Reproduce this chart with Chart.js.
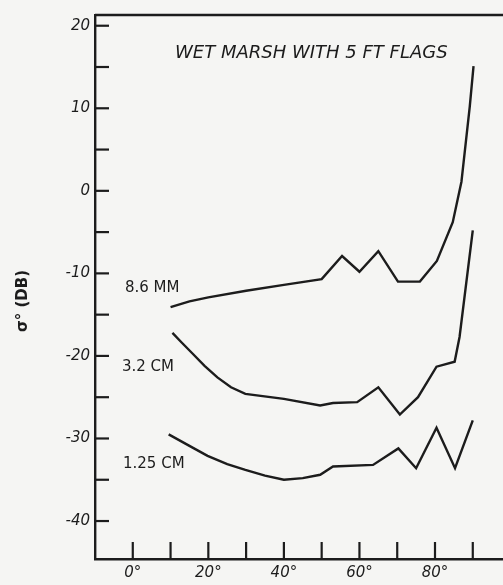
<!DOCTYPE html>
<html>
<head>
<meta charset="utf-8">
<script src="https://cdn.jsdelivr.net/npm/chart.js@4/dist/chart.umd.min.js"></script>
<style>
  html, body { margin: 0; padding: 0; background: #f5f5f3; }
  #wrap { width: 503px; height: 585px; }
</style>
</head>
<body>
<div id="wrap"><canvas id="myChart"></canvas></div>
<script>
// values (angle in degrees, sigma in dB)
var angles86 = [10, 15, 20, 30, 40, 50, 55.4, 60, 65, 70.2, 76, 80.5, 84.7, 87, 89.2, 90.2];
var db86 = [-14.1, -13.4, -12.9, -12.1, -11.4, -10.7, -7.9, -9.8, -7.3, -11, -11, -8.5, -3.8, 1.1, 10.2, 15.1];

var angles32 = [10.5, 13, 16, 19, 22.4, 26, 29.8, 40, 49.6, 53, 59.4, 65, 70.7, 75.5, 80.4, 85.2, 86.5, 90];
var db32 = [-17.2, -18.4, -19.8, -21.2, -22.6, -23.8, -24.6, -25.2, -26, -25.7, -25.6, -23.8, -27.1, -25, -21.3, -20.7, -17.7, -4.8];

var angles125 = [9.5, 15, 19.8, 25, 29.8, 35, 40, 45, 49.6, 53, 63.6, 70.3, 75, 80.4, 85.3, 90];
var db125 = [-29.5, -30.9, -32.1, -33.1, -33.8, -34.5, -35, -34.8, -34.4, -33.4, -33.2, -31.2, -33.6, -28.7, -33.6, -27.8];

var xTicks = [0, 10, 20, 30, 40, 50, 60, 70, 80, 90];
var xLabels = { 0: "0°", 20: "20°", 40: "40°", 60: "60°", 80: "80°" };
var yTicks = [-40, -35, -30, -25, -20, -15, -10, -5, 0, 5, 10, 15, 20];
var yLabels = { "-40": "-40", "-30": "-30", "-20": "-20", "-10": "-10", "0": "0", "10": "10", "20": "20" };

var title = "WET MARSH WITH 5 FT FLAGS";
var seriesNames = ["8.6 MM", "3.2 CM", "1.25 CM"];

function toPoints(xs, ys) {
  var pts = [];
  for (var i = 0; i < xs.length; i++) {
    pts.push({ x: xs[i], y: ys[i] });
  }
  return pts;
}

var ink = "#1c1c1c";
var font = "'DejaVu Sans', sans-serif";

var paperPlugin = {
  id: "paper",
  beforeDraw: function (chart) {
    var ctx = chart.ctx;
    ctx.save();
    ctx.fillStyle = "#f5f5f3";
    ctx.fillRect(0, 0, chart.width, chart.height);
    ctx.restore();
  },
  afterDraw: function (chart) {
    var ctx = chart.ctx;
    var xs = chart.scales.x;
    var ys = chart.scales.y;
    var area = chart.chartArea;
    ctx.save();
    ctx.strokeStyle = ink;
    ctx.lineWidth = 2.4;
    // top frame line
    ctx.beginPath();
    ctx.moveTo(area.left, area.top);
    ctx.lineTo(area.right, area.top);
    ctx.stroke();
    // inward ticks
    ctx.lineWidth = 2.2;
    for (var i = 0; i < yTicks.length; i++) {
      var py = ys.getPixelForValue(yTicks[i]);
      ctx.beginPath();
      ctx.moveTo(area.left, py);
      ctx.lineTo(area.left + 14, py);
      ctx.stroke();
    }
    for (var j = 0; j < xTicks.length; j++) {
      var px = xs.getPixelForValue(xTicks[j]);
      ctx.beginPath();
      ctx.moveTo(px, area.bottom);
      ctx.lineTo(px, area.bottom - 17);
      ctx.stroke();
    }
    // texts
    ctx.fillStyle = ink;
    ctx.textBaseline = "middle";
    ctx.textAlign = "left";
    ctx.font = "italic 18px " + font;
    ctx.fillText(title, 175, 53);
    ctx.font = "15px " + font;
    ctx.fillText(seriesNames[0], 125, 288);
    ctx.fillText(seriesNames[1], 122, 367);
    ctx.fillText(seriesNames[2], 123, 464);
    // y axis title
    ctx.save();
    ctx.translate(23, 301);
    ctx.rotate(-Math.PI / 2);
    ctx.textAlign = "center";
    ctx.font = "bold 15px " + font;
    ctx.fillText("σ° (DB)", 0, 0);
    ctx.restore();
    ctx.restore();
  },
};

function makeSet(label, xs, ys) {
  return {
    label: label,
    data: toPoints(xs, ys),
    borderColor: ink,
    borderWidth: 2.4,
    pointRadius: 0,
    tension: 0,
    fill: false,
  };
}

var config = {
  type: "line",
  data: {
    datasets: [
      makeSet(seriesNames[0], angles86, db86),
      makeSet(seriesNames[1], angles32, db32),
      makeSet(seriesNames[2], angles125, db125),
    ],
  },
  options: {
    responsive: true,
    maintainAspectRatio: false,
    animation: false,
    layout: { padding: { top: 15, right: 0, left: 0, bottom: 0 } },
    plugins: { legend: { display: false }, tooltip: { enabled: false } },
    scales: {
      x: {
        type: "linear",
        min: -10,
        max: 98,
        afterFit: function (s) { s.height = 26; },
        afterBuildTicks: function (s) {
          s.ticks = xTicks.map(function (v) { return { value: v }; });
        },
        grid: { display: false, drawTicks: false },
        border: { display: true, color: ink, width: 2.4 },
        ticks: {
          padding: 5,
          color: ink,
          font: { family: font, size: 15, style: "italic" },
          maxRotation: 0,
          autoSkip: false,
          callback: function (v) { return xLabels[v] || ""; },
        },
      },
      y: {
        min: -44.6,
        max: 21.3,
        afterFit: function (s) { s.width = 95; },
        afterBuildTicks: function (s) {
          s.ticks = yTicks.map(function (v) { return { value: v }; });
        },
        grid: { display: false, drawTicks: false },
        border: { display: true, color: ink, width: 2.4 },
        ticks: {
          padding: 5,
          color: ink,
          font: { family: font, size: 15, style: "italic" },
          autoSkip: false,
          callback: function (v) { return yLabels[String(v)] || ""; },
        },
      },
    },
  },
  plugins: [paperPlugin],
};

var myChart = new Chart(document.getElementById("myChart"), config);
</script>
</body>
</html>
